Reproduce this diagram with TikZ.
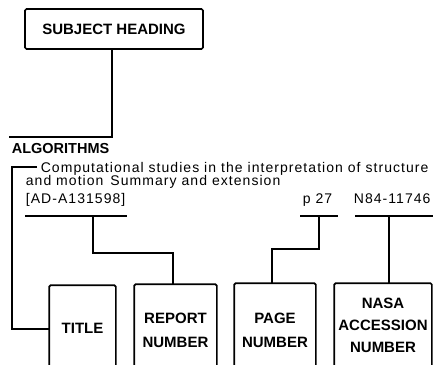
\documentclass[tikz,border=0pt]{standalone}
\usepackage{fontspec}
\setmainfont{Liberation Sans}
\newfontfamily\bodyfont[LetterSpace=7.5]{Liberation Sans}
\begin{document}
\begin{tikzpicture}[x=1pt,y=-1pt,line width=1.7pt,
  lab/.style={font=\fontsize{15}{15}\bfseries\selectfont,inner sep=0pt,anchor=base},
  body/.style={font=\bodyfont\fontsize{14}{15}\selectfont,inner sep=0pt,anchor=base west},
  head/.style={font=\fontsize{14.5}{15}\bfseries\selectfont,inner sep=0pt,anchor=base west},
  area/.style={inner sep=0pt,draw=none},
  open/.style={rounded corners=1.5pt}]
\useasboundingbox (0,0) rectangle (433,364);
% subject heading
\node[draw,rounded corners=1.5pt,inner sep=0pt,minimum width=178pt,minimum height=40pt,
  font=\fontsize{15}{15}\bfseries\selectfont] (subj) at (114,29) {SUBJECT HEADING};
\coordinate (subjJ) at (112,49);
\coordinate (algL) at (9,137);
\draw (subjJ) |- (algL);
% entry text
\node[head] (alg) at (11,153) {ALGORITHMS};
\node[body] (t1) at (40,172) {Computational studies in the interpretation of structure};
\node[body] (t2) at (25,185.5) {and motion\hspace{7pt}Summary and extension};
\node[body] (rep) at (25,203) {[AD-A131598]};
\node[body] (pg) at (302,203) {p 27};
\node[body] (acc) at (353,203) {N84-11746};
% underlines
\coordinate (repL) at (25,216); \coordinate (repR) at (127,216);
\coordinate (pgL) at (300,216); \coordinate (pgR) at (338,216);
\coordinate (accL) at (355,216); \coordinate (accR) at (433,216);
\draw (repL) -- (repR);
\draw (pgL) -- (pgR);
\draw (accL) -- (accR);
% open boxes
\node[area,minimum width=65pt,minimum height=78pt] (title) at (82.5,325) {};
\node[area,minimum width=81pt,minimum height=79pt] (report) at (175.5,324.5) {};
\node[area,minimum width=80pt,minimum height=80pt] (page) at (275,324) {};
\node[area,minimum width=96pt,minimum height=80pt] (nasa) at (383,324) {};
\foreach \b in {title,report,page,nasa}
  \draw[open] (\b.south west) -- (\b.north west) -- (\b.north east) -- (\b.south east);
\node[lab] (titlet) at (82.5,333) {TITLE};
\node[lab] (reportt1) at (175.5,323) {REPORT};
\node[lab] (reportt2) at (175.5,347) {NUMBER};
\node[lab] (paget1) at (275,323) {PAGE};
\node[lab] (paget2) at (275,347) {NUMBER};
\node[lab] (nasat1) at (383,308) {NASA};
\node[lab] (nasat2) at (383,330) {ACCESSION};
\node[lab] (nasat3) at (383,352) {NUMBER};
% connectors
\coordinate (dashR) at (37,167);
\coordinate (brTop) at (12,167);
\coordinate (titleJ) at (50,329);
\draw (dashR) -- (brTop) |- (titleJ);
\coordinate (repJ) at (93,216);
\coordinate (repM) at (93,253);
\draw (repJ) -- (repM) -| ([xshift=-2.5pt]report.north);
\coordinate (pgJ) at (319,216);
\coordinate (pgM) at (319,249);
\draw (pgJ) -- (pgM) -| ([xshift=-3pt]page.north);
\coordinate (accJ) at (389,216);
\draw (accJ) -- (accJ |- nasa.north);
\end{tikzpicture}
\end{document}
